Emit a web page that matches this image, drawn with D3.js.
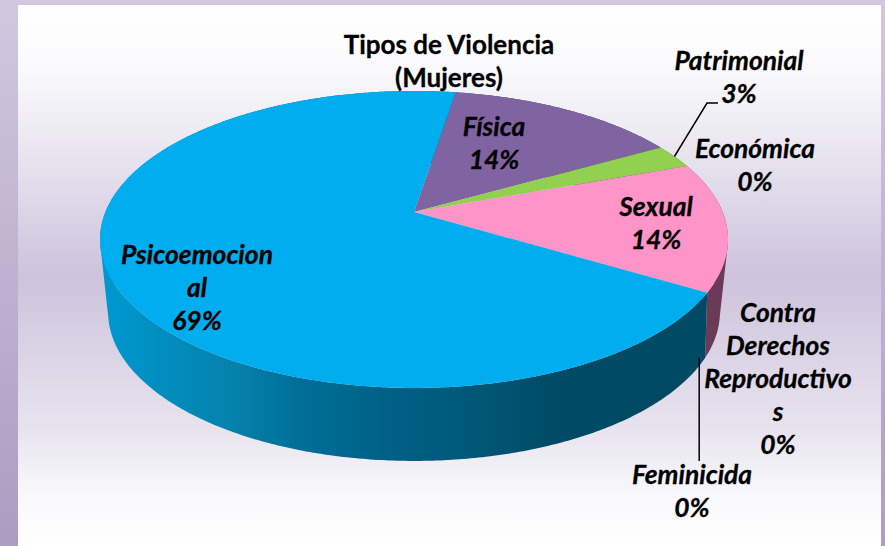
<!DOCTYPE html>
<html><head><meta charset="utf-8">
<script src="https://cdn.jsdelivr.net/npm/d3@7/dist/d3.min.js"></script>
<style>html,body{margin:0;padding:0;background:#cfc5dc;overflow:hidden}svg{display:block}</style>
</head><body><script>
const titleLines = ["Tipos de Violencia", "(Mujeres)"];
const categories = ["Física", "Patrimonial", "Económica", "Sexual", "Contra Derechos Reproductivos", "Feminicida", "Psicoemocional"];
const shares = [14.3, 2.6, 0, 14.05, 0, 0, 69.05];
const faceColors = ["#8064a2", "#92d050", "#9bbb59", "#ff94c8", "#7f6000", "#4bacc6", "#00aeef"];
const sideColors = ["#4d3c61", "#587d30", "#5d7035", "#6b3a56", "#4c3a00", "#2d6777", "url(#blueSide)"];
const labelCentres = [[494, 127], [739, 61], [755, 149], [656, 207], [778, 313], [692, 475], [197, 255]];

const W = 885, H = 546;
const svg = d3.select("body").append("svg").attr("width", W).attr("height", H);
const defs = svg.append("defs");

function grad(id, attrs, stops) {
  const g = defs.append("linearGradient").attr("id", id);
  Object.entries(attrs).forEach(([k, v]) => g.attr(k, v));
  stops.forEach(([o, c]) => g.append("stop").attr("offset", o).attr("stop-color", c));
}
grad("outer", {x1: 0, x2: 0, y1: 0, y2: 1}, [[0, "#d1c8de"], [1, "#ad9cc2"]]);
grad("panel", {x1: 0, x2: 0, y1: 0, y2: 1}, [
  [0, "#ffffff"], [0.1, "#fbfbfd"], [0.22, "#efedf4"], [0.5, "#cdc3dc"],
  [0.78, "#e7e3ee"], [0.9, "#f8f8fb"], [1, "#ffffff"]]);
grad("blueSide", {gradientUnits: "userSpaceOnUse", x1: 100, x2: 720, y1: 0, y2: 0}, [
  [0, "#0099d2"], [0.08, "#0090c2"], [0.22, "#0581ab"], [0.32, "#006f98"], [0.48, "#005f84"],
  [0.63, "#005674"], [0.74, "#004a64"], [1, "#004a64"]]);

svg.append("rect").attr("width", W).attr("height", H).attr("fill", "url(#outer)");
svg.append("rect").attr("x", 18).attr("y", 5).attr("width", 863).attr("height", 541).attr("fill", "url(#panel)");

// Perspective discs: a unit circle pushed through a projective map.
const topDisc = {cx: 414, y0: 212, R: 308.6, S: 143.4, p: 0.185};
const baseDisc = {cx: 414, y0: 276.2, R: 297, S: 140.4, p: 0.24};
function project(a, d) {
  const x = Math.sin(a), y = Math.cos(a), w = 1 + d.p * y;
  return [d.cx + d.R * x / w, d.y0 - d.S * y / w];
}
function rim(a0, a1, d) {
  const n = Math.max(2, Math.ceil((a1 - a0) / 0.01));
  return d3.range(n + 1).map(i => project(a0 + (a1 - a0) * i / n, d));
}

const start = 9.2 * Math.PI / 180;
const arcs = d3.pie().sort(null).startAngle(start).endAngle(start + 2 * Math.PI)(shares);
const path = d3.line();

// The side wall is the swept area between the two rims: one small quad per step,
// all wound the same way so the whole wall fills without pinching where the rims cross.
const sides = svg.append("g");
arcs.forEach((s, i) => {
  if (s.value === 0) return;
  const t = rim(s.startAngle, s.endAngle, topDisc), b = rim(s.startAngle, s.endAngle, baseDisc);
  let d = "";
  d3.range(t.length - 1).forEach(k => {
    const quad = [t[k], t[k + 1], b[k + 1], b[k]];
    if (d3.polygonArea(quad) < 0) quad.reverse();
    d += path(quad) + "Z";
  });
  sides.append("path").attr("d", d).attr("fill", sideColors[i]);
});
const faces = svg.append("g");
arcs.forEach((s, i) => {
  if (s.value === 0) return;
  const pts = [[topDisc.cx, topDisc.y0]].concat(rim(s.startAngle, s.endAngle, topDisc));
  faces.append("path").attr("d", path(pts) + "Z").attr("fill", faceColors[i]);
});

// Leader lines
const leaders = svg.append("g").attr("fill", "none").attr("stroke", "#000").attr("stroke-width", 1.5);
const mid = s => (s.startAngle + s.endAngle) / 2;
const pA = project(mid(arcs[1]), topDisc);
leaders.append("path").attr("d", path([pA, [707, 103], [718, 103]]));
const pF = project(mid(arcs[5]), baseDisc);
leaders.append("path").attr("d", path([[pF[0] - 6, pF[1]], [pF[0] - 6, 461]]));

// Titles and labels
const font = "Lato, Carlito, Calibri, sans-serif";
svg.append("g").selectAll("text").data(titleLines).join("text")
  .attr("x", 449).attr("y", (d, i) => 45 + 33 * i).attr("dy", "0.35em")
  .attr("text-anchor", "middle").attr("font-family", font)
  .attr("font-weight", 700).attr("font-size", 26).attr("fill", "#000")
  .attr("stroke", "#000").attr("stroke-width", 0.3).text(d => d);

function wrap(label) {
  const out = [];
  label.split(" ").forEach(w => {
    while (w.length > 12) { out.push(w.slice(0, 12)); w = w.slice(12); }
    out.push(w);
  });
  return out;
}
const lineGap = 33;
const labelG = svg.append("g").attr("font-family", font).attr("font-weight", 700)
  .attr("font-style", "italic").attr("font-size", 26.4).attr("fill", "#000").attr("text-anchor", "middle")
  .attr("stroke", "#000").attr("stroke-width", 0.3);
arcs.forEach((s, i) => {
  const lines = wrap(categories[i]).concat(Math.round(s.value) + "%");
  const [cx, cy] = labelCentres[i];
  lines.forEach((t, j) => {
    labelG.append("text").attr("x", cx).attr("y", cy + lineGap * j).attr("dy", "0.35em").text(t);
  });
});
</script></body></html>
